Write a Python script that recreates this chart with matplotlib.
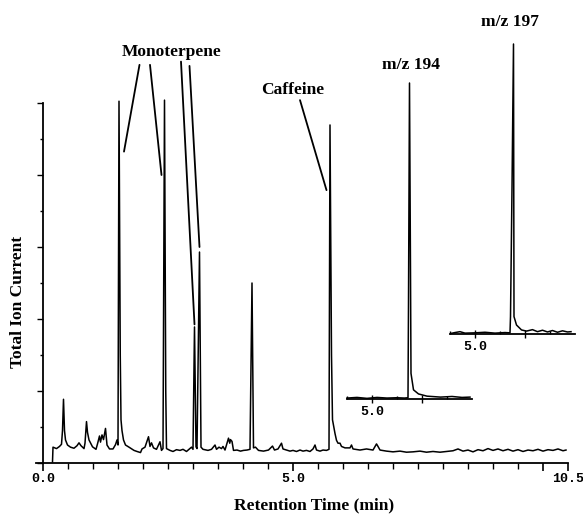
import matplotlib
matplotlib.use("Agg")
import matplotlib.pyplot as plt

# main total ion chromatogram (time in min, relative intensity)
tic_time = [0.19, 0.20, 0.27, 0.33, 0.37, 0.39, 0.41, 0.43, 0.45, 0.49, 0.55, 0.62, 0.68,
            0.72, 0.76, 0.82, 0.84, 0.87, 0.89, 0.92, 0.99, 1.06, 1.09, 1.13, 1.15, 1.18,
            1.21, 1.25, 1.28, 1.33, 1.40, 1.45, 1.48, 1.50, 1.52, 1.545, 1.56, 1.58, 1.61,
            1.65, 1.72, 1.82, 1.88, 1.95, 1.98, 2.04, 2.11, 2.14, 2.17, 2.21, 2.27, 2.34,
            2.37, 2.40, 2.43, 2.455, 2.47, 2.54, 2.60, 2.67, 2.74, 2.80, 2.87, 2.92, 2.97,
            3.00, 3.03, 3.06, 3.08, 3.13, 3.16, 3.20, 3.30, 3.37, 3.44, 3.47, 3.52, 3.57,
            3.60, 3.64, 3.71, 3.735, 3.75, 3.78, 3.81, 3.88, 3.95, 4.01, 4.08, 4.14, 4.18,
            4.21, 4.25, 4.31, 4.41, 4.51, 4.59, 4.63, 4.70, 4.77, 4.80, 4.87, 4.94, 5.00,
            5.07, 5.14, 5.20, 5.27, 5.34, 5.40, 5.44, 5.47, 5.54, 5.60, 5.67, 5.72, 5.74,
            5.77, 5.79, 5.84, 5.87, 5.90, 5.94, 5.97, 6.04, 6.14, 6.17, 6.20, 6.34, 6.47,
            6.60, 6.67, 6.70, 6.74, 6.87, 7.00, 7.14, 7.27, 7.40, 7.54, 7.67, 7.80, 7.94,
            8.07, 8.20, 8.30, 8.40, 8.50, 8.60, 8.70, 8.80, 8.90, 9.00, 9.10, 9.20, 9.30,
            9.40, 9.50, 9.60, 9.70, 9.80, 9.90, 10.00, 10.10, 10.20, 10.30, 10.40, 10.46]
tic_int = [0.3, 4.4, 4.0, 4.6, 5.2, 9.0, 17.7, 9.0, 6.4, 5.0, 4.4, 4.1, 4.8,
           5.6, 4.8, 4.0, 5.5, 11.5, 8.5, 6.4, 4.5, 3.8, 5.3, 7.5, 5.8, 7.8,
           6.5, 9.6, 5.0, 3.9, 3.9, 5.1, 6.4, 5.0, 100.5, 30.0, 12.0, 9.0, 6.4,
           5.0, 4.4, 3.5, 3.2, 2.9, 3.9, 4.4, 7.3, 4.6, 5.6, 4.2, 3.8, 5.9,
           3.5, 4.0, 100.8, 20.0, 4.0, 3.5, 3.2, 3.7, 3.5, 3.8, 3.2, 3.8, 4.4,
           3.8, 37.8, 4.5, 4.0, 58.6, 4.4, 3.8, 3.5, 3.8, 5.0, 3.8, 4.4, 4.0,
           4.6, 3.6, 6.9, 5.5, 6.5, 6.0, 3.5, 3.6, 3.3, 3.5, 3.6, 3.8, 50.0,
           4.2, 4.4, 3.5, 3.3, 3.6, 4.7, 3.6, 3.9, 5.5, 3.9, 3.6, 3.3, 3.5,
           3.2, 3.6, 3.3, 3.5, 3.2, 3.9, 5.0, 3.6, 3.3, 3.6, 3.5, 3.8, 93.9,
           30.0, 12.0, 8.2, 6.3, 5.5, 5.5, 4.6, 4.2, 4.2, 5.0, 3.9, 3.6, 3.9,
           3.6, 5.3, 4.6, 3.6, 3.3, 3.1, 3.3, 3.0, 3.1, 3.3, 3.0, 3.2, 3.0,
           3.2, 3.4, 3.9, 3.3, 3.6, 3.1, 3.7, 3.4, 4.0, 3.5, 3.9, 3.4, 3.8,
           3.3, 3.7, 3.2, 3.6, 3.4, 3.8, 3.3, 3.7, 3.5, 3.9, 3.4, 3.6]

# extracted ion chromatograms (insets)
mz194_time = [4.50, 4.70, 4.90, 5.10, 5.30, 5.50, 5.65, 5.72, 5.73, 5.75, 5.77, 5.78,
              5.83, 5.93, 6.10, 6.37, 6.60, 6.80, 6.96]
mz194_int = [0.3, 0.5, 0.2, 0.5, 0.3, 0.4, 0.3, 0.4, 30.0, 100.0, 40.0, 8.1,
             2.9, 1.6, 0.9, 0.6, 0.8, 0.5, 0.6]
mz197_time = [4.52, 4.60, 4.70, 4.80, 5.00, 5.20, 5.40, 5.60, 5.70, 5.71, 5.74, 5.77,
              5.78, 5.83, 5.93, 6.03, 6.15, 6.25, 6.35, 6.45, 6.55, 6.65, 6.75, 6.85, 6.92]
mz197_int = [0.2, 0.5, 0.8, 0.3, 0.4, 0.6, 0.3, 0.5, 0.4, 6.0, 50.0, 100.0,
             6.0, 3.1, 1.4, 1.0, 1.5, 0.8, 1.3, 0.7, 1.2, 0.6, 1.1, 0.7, 0.8]

# leader lines: (start time, start int) -> (end time, end int)
mono_leaders = [((1.93, 110.6), (1.62, 86.5)),
                ((2.14, 110.6), (2.37, 80.0)),
                ((2.76, 111.5), (3.03, 38.5)),
                ((2.93, 110.3), (3.13, 60.0))]
caff_leader = ((5.14, 100.8), (5.67, 75.8))

serif = "Liberation Serif"
mono = "Liberation Mono"
fs = 12.5

fig = plt.figure(figsize=(5.83, 5.17), dpi=100)
ax = fig.add_axes([35.5 / 583, 54 / 517, 532.5 / 583, 360 / 517])

ax.plot(tic_time, tic_int, color="black", lw=1.1, clip_on=False)
ax.set_xlim(-0.15, 10.5)
ax.set_ylim(0, 100)

for s in ["top", "right"]:
    ax.spines[s].set_visible(False)
ax.spines["left"].set_position(("data", 0))
ax.spines["left"].set_linewidth(1.3)
ax.spines["bottom"].set_linewidth(1.3)

ax.set_xticks([0, 5, 10, 10.5])
ax.set_xticklabels(["0.0", "5.0", "", "10.5"], fontfamily=mono, fontweight="bold", fontsize=9.5)
ax.set_xticks([x / 2 for x in range(1, 21) if x not in (10, 20)], minor=True)
ax.tick_params(axis="x", which="major", length=6, width=1.2, pad=1)
ax.tick_params(axis="x", which="minor", length=4, width=1.0)
ax.set_yticks([0, 20, 40, 60, 80, 100])
ax.set_yticklabels([])
ax.set_yticks([10, 30, 50, 70, 90], minor=True)
ax.tick_params(axis="y", which="major", length=4, width=1.0)
ax.tick_params(axis="y", which="minor", length=2, width=1.0)

ax.set_xlabel("Retention Time (min)", fontfamily=serif, fontweight="bold", fontsize=fs)
ax.xaxis.set_label_coords(0.524, -0.117)
ax.xaxis.label.set_va("center")
ax.set_ylabel("Total Ion Current", fontfamily=serif, fontweight="bold", fontsize=fs)
ax.yaxis.set_label_coords(-0.033, 0.447)
ax.yaxis.label.set_va("center")

ax.text(2.57, 114.3, "Monoterpene", fontfamily=serif, fontweight="bold", fontsize=fs,
        ha="center", va="center")
for start, end in mono_leaders:
    ax.annotate("", xy=end, xytext=start,
                arrowprops=dict(arrowstyle="-", lw=1.3, color="black", shrinkA=0, shrinkB=0))
ax.text(4.99, 103.6, "Caffeine", fontfamily=serif, fontweight="bold", fontsize=fs,
        ha="center", va="center")
ax.annotate("", xy=caff_leader[1], xytext=caff_leader[0],
            arrowprops=dict(arrowstyle="-", lw=1.3, color="black", shrinkA=0, shrinkB=0))


def inset(rect, t, y, label, label_xy):
    a = fig.add_axes(rect)
    a.plot(t, y, color="black", lw=1.1, clip_on=False)
    a.set_xlim(4.5, 7.0)
    a.set_ylim(0, 100)
    for s in ["top", "right", "left"]:
        a.spines[s].set_visible(False)
    a.spines["bottom"].set_linewidth(1.3)
    a.set_yticks([])
    a.set_xticks([5.0, 6.0])
    a.set_xticklabels(["5.0", ""], fontfamily=mono, fontweight="bold", fontsize=9.5)
    a.set_xticks([4.5, 5.5, 6.5], minor=True)
    a.tick_params(axis="x", which="major", direction="inout", length=6, width=1.0, pad=2)
    a.tick_params(axis="x", which="minor", direction="in", length=2, width=1.0)
    a.patch.set_visible(False)
    a.text(label_xy[0], label_xy[1], label, transform=a.transAxes, fontfamily=serif,
           fontweight="bold", fontsize=fs, ha="center", va="center")
    return a


inset([347 / 583, 118 / 517, 125 / 583, 316 / 517], mz194_time, mz194_int, "m/z 194", (0.508, 1.057))
inset([450 / 583, 183 / 517, 125 / 583, 290 / 517], mz197_time, mz197_int, "m/z 197", (0.476, 1.077))

fig.savefig("out.png", dpi=100)
